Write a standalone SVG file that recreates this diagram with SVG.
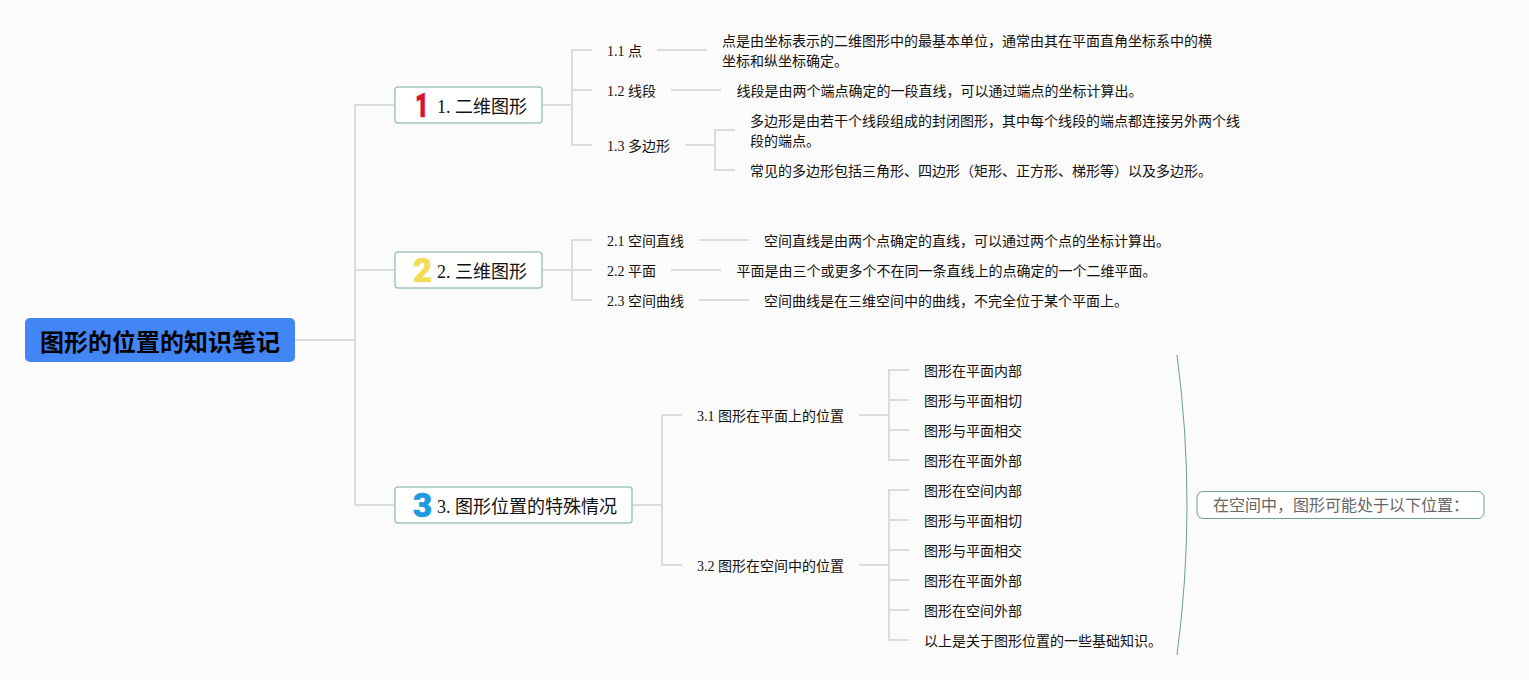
<svg xmlns="http://www.w3.org/2000/svg" width="1529" height="680" viewBox="0 0 1529 680">
<style>
text{font-family:"Liberation Serif","Noto Sans CJK SC",serif;fill:#111}
.t{font-size:14px}
.b{font-size:18px}
.r{font-size:24px;font-weight:700;font-family:"Noto Sans CJK SC","Liberation Sans",sans-serif;fill:#000}
.box{fill:#fff;stroke:#a3c6bb;stroke-width:1.5}
.c{fill:none;stroke:#dcdcdc;stroke-width:2;stroke-linejoin:miter}
.m{font-family:Roboto,"Liberation Sans",sans-serif;font-weight:900;font-size:33px;text-anchor:middle;stroke-width:.6;stroke-linejoin:round}
</style>
<rect width="1529" height="680" fill="#fbfbfb"/>
<g id="connectors" class="c">
<path d="M295 340H355M395 105H355V505H395M355 270H395"/>
<path d="M542 105H572M592 50H572V145H592M572 90H592"/>
<path d="M657 50H707M671 90H721M685 145H715M735 130H715V170H735"/>
<path d="M542 270H592M592 240H572V300H592"/>
<path d="M699 240H749M671 270H721M699 300H749"/>
<path d="M632 505H662M682 415H662V565H682"/>
<path d="M859 415H889M909 370H889V460H909M889 400H909M889 430H909"/>
<path d="M859 565H889M909 490H889V640H909M889 520H909M889 550H909M889 580H909M889 610H909"/>
</g>
<g id="root"><rect x="25" y="318" width="270" height="44" rx="5" fill="#4285f4"/><text class="r" x="160" y="350.500" text-anchor="middle">图形的位置的知识笔记</text></g>
<g id="n1"><rect class="box" x="395" y="87" width="147" height="36" rx="3"/><text class="m" transform="translate(422 116.500) scale(.72 1)" style="fill:#d8132f;stroke:#d8132f">1</text><text class="b" x="437" y="113">1. 二维图形</text></g>
<g id="n2"><rect class="box" x="395" y="252" width="147" height="36" rx="3"/><text class="m" x="422.500" y="281.500" style="fill:#f2dc58;stroke:#f2dc58">2</text><text class="b" x="437" y="278">2. 三维图形</text></g>
<g id="n3"><rect class="box" x="395" y="487" width="237" height="36" rx="3"/><text class="m" x="422.500" y="516.500" style="fill:#1f9ade;stroke:#1f9ade">3</text><text class="b" x="437" y="513">3. 图形位置的特殊情况</text></g>
<g id="n11"><text class="t" x="607" y="56">1.1 点</text></g>
<g id="n11a"><text class="t" x="722" y="46">点是由坐标表示的二维图形中的最基本单位，通常由其在平面直角坐标系中的横</text><text class="t" x="722" y="66">坐标和纵坐标确定。</text></g>
<g id="n12"><text class="t" x="607" y="96">1.2 线段</text></g>
<g id="n12a"><text class="t" x="736.500" y="96">线段是由两个端点确定的一段直线，可以通过端点的坐标计算出。</text></g>
<g id="n13"><text class="t" x="607" y="151">1.3 多边形</text></g>
<g id="n13a"><text class="t" x="750" y="126">多边形是由若干个线段组成的封闭图形，其中每个线段的端点都连接另外两个线</text><text class="t" x="750" y="146">段的端点。</text></g>
<g id="n13b"><text class="t" x="750" y="176">常见的多边形包括三角形、四边形（矩形、正方形、梯形等）以及多边形。</text></g>
<g id="n21"><text class="t" x="607" y="246">2.1 空间直线</text></g>
<g id="n21a"><text class="t" x="764" y="246">空间直线是由两个点确定的直线，可以通过两个点的坐标计算出。</text></g>
<g id="n22"><text class="t" x="607" y="276">2.2 平面</text></g>
<g id="n22a"><text class="t" x="736.500" y="276">平面是由三个或更多个不在同一条直线上的点确定的一个二维平面。</text></g>
<g id="n23"><text class="t" x="607" y="306">2.3 空间曲线</text></g>
<g id="n23a"><text class="t" x="764" y="306">空间曲线是在三维空间中的曲线，不完全位于某个平面上。</text></g>
<g id="n31"><text class="t" x="697" y="421">3.1 图形在平面上的位置</text></g>
<g id="n31a"><text class="t" x="924" y="376">图形在平面内部</text></g>
<g id="n31b"><text class="t" x="924" y="406">图形与平面相切</text></g>
<g id="n31c"><text class="t" x="924" y="436">图形与平面相交</text></g>
<g id="n31d"><text class="t" x="924" y="466">图形在平面外部</text></g>
<g id="n32"><text class="t" x="697" y="571">3.2 图形在空间中的位置</text></g>
<g id="n32a"><text class="t" x="924" y="496">图形在空间内部</text></g>
<g id="n32b"><text class="t" x="924" y="526">图形与平面相切</text></g>
<g id="n32c"><text class="t" x="924" y="556">图形与平面相交</text></g>
<g id="n32d"><text class="t" x="924" y="586">图形在平面外部</text></g>
<g id="n32e"><text class="t" x="924" y="616">图形在空间外部</text></g>
<g id="n32f"><text class="t" x="924" y="646">以上是关于图形位置的一些基础知识。</text></g>
<g id="summary"><path d="M1177 355Q1197 505 1177 655" fill="none" stroke="#6ba08f" stroke-width="1"/><rect x="1197" y="491.500" width="287" height="27" rx="6" fill="#fff" stroke="#6ba08f"/><text x="1213" y="511" font-size="16" style="fill:#666">在空间中，图形可能处于以下位置：</text></g>
</svg>
